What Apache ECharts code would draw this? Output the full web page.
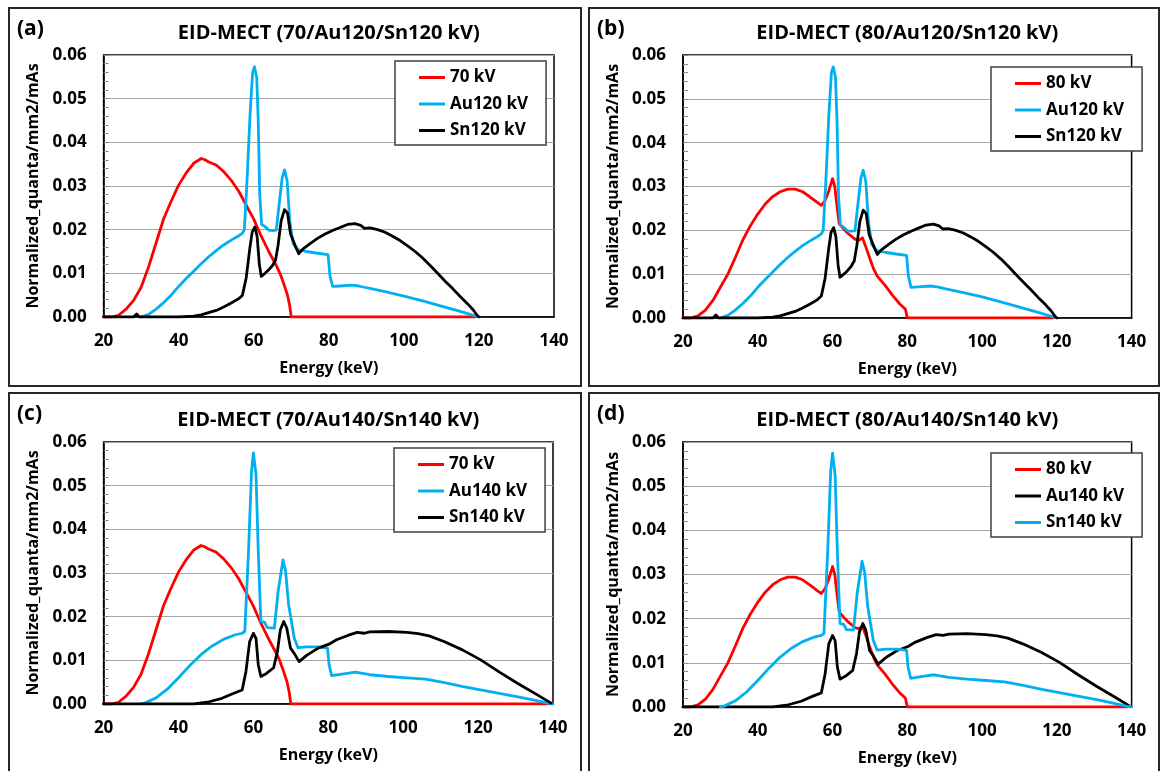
<!DOCTYPE html>
<html><head><meta charset="utf-8">
<script src="https://cdn.jsdelivr.net/npm/echarts/dist/echarts.min.js"></script>
<style>
html,body{margin:0;padding:0;background:#fff;width:1160px;height:771px;overflow:hidden;}
.p{position:absolute;}
</style></head><body>
<div id="pa" class="p" style="left:8px;top:7px;width:574px;height:380px"></div>
<div id="pb" class="p" style="left:588px;top:7px;width:572px;height:380px"></div>
<div id="pc" class="p" style="left:8px;top:392px;width:574px;height:379px"></div>
<div id="pd" class="p" style="left:588px;top:392px;width:572px;height:379px"></div>
<script>
// ---------- DATA (energy keV, normalized quanta/mm2/mAs) ----------
const xTicks = [20, 40, 60, 80, 100, 120, 140];
const yTicks = [0, 0.01, 0.02, 0.03, 0.04, 0.05, 0.06];

const kv70 = [[20,0],[22,0],[24,0.0004],[26,0.0018],[28,0.0038],[30,0.0068],[32,0.0115],[34,0.0170],[36,0.0225],[38,0.0265],[40,0.0302],[42,0.0330],[44,0.0352],[46,0.0363],[47,0.0360],[48,0.0355],[50,0.0348],[52,0.0333],[54,0.0313],[56,0.0288],[58,0.0256],[60,0.0224],[62,0.0185],[64,0.0150],[66,0.0118],[67,0.0100],[68,0.0076],[69,0.0050],[69.6,0.0025],[70,0]];

const kv80 = [[20,0],[22,0],[24,0.0005],[26,0.0018],[28,0.0040],[30,0.0070],[32,0.0100],[34,0.0138],[36,0.0178],[38,0.0210],[40,0.0237],[42,0.0260],[44,0.0277],[46,0.0288],[48,0.0294],[50,0.0294],[52,0.0288],[54,0.0276],[56,0.0263],[57,0.0257],[58,0.0268],[59,0.0290],[60,0.0318],[60.6,0.0300],[61.2,0.0255],[61.8,0.0215],[63,0.0203],[64,0.0194],[66,0.0180],[67,0.0177],[68,0.0183],[69,0.0160],[70,0.0135],[71,0.0112],[72,0.0095],[74,0.0075],[76,0.0052],[78,0.0032],[79.5,0.0020],[80,0]];

const au120 = [[30,0],[32,0.0006],[34,0.0018],[36,0.0033],[38,0.0050],[40,0.0070],[42,0.0088],[44,0.0105],[46,0.0122],[48,0.0138],[50,0.0152],[52,0.0165],[54,0.0176],[56,0.0186],[57,0.0192],[57.5,0.0200],[58.2,0.0310],[59,0.0460],[59.7,0.0560],[60.2,0.0573],[60.8,0.0548],[61.2,0.0450],[61.6,0.0280],[62.1,0.0212],[63,0.0207],[64,0.0199],[65,0.0198],[66,0.0199],[66.9,0.0268],[67.6,0.0320],[68.2,0.0337],[68.9,0.0312],[69.6,0.0220],[70.5,0.0168],[71.8,0.0154],[74,0.0150],[77,0.0146],[79.8,0.0143],[80.3,0.0095],[81,0.0070],[83,0.0071],[86,0.0073],[88,0.0071],[90,0.0067],[95,0.0058],[100,0.0048],[105,0.0037],[110,0.0025],[115,0.0013],[120,0]];

const sn120 = [[20,0],[28,0],[28.8,0.0007],[29.5,0],[40,0],[44,0.0002],[46,0.0005],[48,0.0010],[50,0.0015],[52,0.0023],[54,0.0032],[56,0.0042],[57,0.0050],[58,0.0090],[59,0.0160],[59.6,0.0195],[60.3,0.0206],[60.9,0.0185],[61.5,0.0120],[62,0.0093],[63,0.0100],[64,0.0108],[65,0.0118],[65.8,0.0130],[66.5,0.0165],[67.3,0.0220],[68.2,0.0246],[69,0.0238],[69.8,0.0190],[70.5,0.0175],[71.2,0.0160],[72,0.0145],[73,0.0155],[75,0.0168],[77,0.0180],[79,0.0190],[81,0.0198],[83,0.0205],[85,0.0212],[87,0.0214],[88.5,0.0210],[89.5,0.0203],[91,0.0204],[93,0.0200],[95,0.0194],[97,0.0185],[99,0.0175],[101,0.0163],[103,0.0150],[105,0.0135],[107,0.0118],[109,0.0100],[111,0.0082],[113,0.0065],[115,0.0047],[117,0.0030],[118.5,0.0016],[119.5,0.0004],[120,0]];

const au140 = [[30,0],[31,0.0002],[34,0.0014],[37,0.0034],[40,0.0060],[43,0.0088],[46,0.0113],[49,0.0133],[52,0.0148],[55,0.0158],[57,0.0162],[57.7,0.0166],[58.7,0.0350],[59.5,0.0533],[60,0.0575],[60.7,0.0525],[61.3,0.0350],[62,0.0189],[63,0.0187],[63.7,0.0175],[65.6,0.0174],[66.6,0.0258],[67.9,0.0330],[68.6,0.0304],[69.4,0.0228],[70.9,0.0151],[71.9,0.0129],[74.3,0.0131],[77.3,0.0131],[79.8,0.0128],[80.2,0.0090],[80.9,0.0065],[83.2,0.0068],[87.2,0.0073],[91.1,0.0067],[96,0.0063],[101,0.0060],[106,0.0057],[111,0.0049],[116,0.0040],[121,0.0032],[126,0.0024],[131,0.0016],[136,0.0007],[138.5,0.0002],[140,0]];

const sn140 = [[20,0],[44,0],[47.7,0.0004],[51.6,0.0013],[54.6,0.0024],[57,0.0032],[58,0.0074],[59,0.0143],[60,0.0162],[60.7,0.0150],[61.3,0.0090],[62,0.0063],[63.5,0.0070],[65.4,0.0083],[66.4,0.0120],[67.2,0.0170],[68.1,0.0189],[68.9,0.0174],[69.9,0.0128],[70.9,0.0116],[72.2,0.0097],[74.3,0.0112],[77.3,0.0128],[80.2,0.0137],[82.2,0.0147],[85.2,0.0157],[87.7,0.0164],[89.6,0.0162],[91.1,0.0165],[96,0.0166],[101,0.0164],[104,0.0161],[106.9,0.0156],[110.9,0.0143],[115.8,0.0124],[120.7,0.0101],[125.7,0.0073],[130.6,0.0047],[135.6,0.0022],[139.5,0.0002]];

const zeroTail120 = [[119,0]];
const zeroTail140 = [[139,0]];

const titles = ['EID-MECT (70/Au120/Sn120 kV)','EID-MECT (80/Au120/Sn120 kV)','EID-MECT (70/Au140/Sn140 kV)','EID-MECT (80/Au140/Sn140 kV)'];
const panelLabels = ['(a)','(b)','(c)','(d)'];
const legendNames = [['70 kV','Au120 kV','Sn120 kV'],['80 kV','Au120 kV','Sn120 kV'],['70 kV','Au140 kV','Sn140 kV'],['80 kV','Au140 kV','Sn140 kV']];
const xName = 'Energy (keV)';
const yName = 'Normalized_quanta/mm2/mAs';

// ---------- STYLE / LAYOUT ----------
const RED = '#ff0000', BLUE = '#00b0f0', BLACK = '#000000';
const FONT = '"Open Sans", "DejaVu Sans", sans-serif';

const panels = [
  {el:'pa', w:574, h:380, grid:{left:95.6, right:28, top:48, bottom:70}, legend:{left:387, top:54}, titleY:26, labelY:22,
   series:[[kv70.concat(zeroTail120), RED],[au120, BLUE],[sn120, BLACK]]},
  {el:'pb', w:572, h:380, grid:{left:95, right:28.4, top:48, bottom:69}, legend:{left:403, top:60}, titleY:26, labelY:22,
   series:[[kv80.concat(zeroTail120), RED],[au120, BLUE],[sn120, BLACK]]},
  {el:'pc', w:574, h:379, grid:{left:95.6, right:29, top:50, bottom:67}, legend:{left:386, top:56}, titleY:28, labelY:22,
   series:[[kv70.concat(zeroTail140), RED],[au140, BLUE],[sn140, BLACK]]},
  {el:'pd', w:572, h:379, grid:{left:95, right:28.4, top:50, bottom:64}, legend:{left:403, top:61}, titleY:28, labelY:22,
   series:[[kv80.concat(zeroTail140), RED],[sn140, BLACK],[au140, BLUE]]}
];

panels.forEach((p, i) => {
  const chart = echarts.init(document.getElementById(p.el), null, {renderer:'canvas'});
  const plotW = p.w - p.grid.left - p.grid.right;
  const titleX = p.grid.left + plotW / 2;
  chart.setOption({
    animation:false,
    backgroundColor:'#fff',
    textStyle:{fontFamily:FONT},
    graphic:[
      {type:'rect', shape:{x:1, y:1, width:p.w-2, height: (i < 2 ? p.h-2 : p.h+20)}, style:{fill:'none', stroke:'#262626', lineWidth:2}, silent:true, z:100},
      {type:'text', x:9, y:p.labelY, style:{text:panelLabels[i], fontFamily:FONT, fontWeight:'bold', fontSize:21, fill:'#000', textVerticalAlign:'middle', textAlign:'left'}},
      {type:'text', x:titleX, y:p.titleY, style:{text:titles[i], fontFamily:FONT, fontWeight:'bold', fontSize:20, fill:'#000', textVerticalAlign:'middle', textAlign:'center'}}
    ],
    grid:Object.assign({show:true, borderColor:'#000', borderWidth:1.5, backgroundColor:'#fff', containLabel:false, outerBoundsMode:'none'}, p.grid),
    legend:{
      orient:'vertical', left:p.legend.left, top:p.legend.top,
      icon:'rect', itemWidth:26, itemHeight:3, itemGap:9.5,
      padding:[8, 18, 6, 24],
      borderColor:'#404040', borderWidth:1.5, backgroundColor:'#fff',
      textStyle:{fontFamily:FONT, fontWeight:'bold', fontSize:17, color:'#000'},
      data:legendNames[i]
    },
    xAxis:{
      type:'value', min:xTicks[0], max:xTicks[xTicks.length-1], interval:xTicks[1]-xTicks[0],
      name:xName, nameLocation:'middle', nameGap:43,
      nameTextStyle:{fontFamily:FONT, fontWeight:'bold', fontSize:16, color:'#000'},
      axisLine:{show:true, lineStyle:{color:'#000', width:1.5}},
      axisTick:{show:false},
      splitLine:{show:false},
      axisLabel:{fontFamily:FONT, fontWeight:'bold', fontSize:17, color:'#000', margin:16}
    },
    yAxis:{
      type:'value', min:yTicks[0], max:yTicks[yTicks.length-1], interval:yTicks[1]-yTicks[0],
      name:yName, nameLocation:'middle', nameGap:54, nameRotate:90,
      nameTextStyle:{fontFamily:FONT, fontWeight:'bold', fontSize:16, color:'#000'},
      axisLine:{show:true, lineStyle:{color:'#000', width:1.5}},
      axisTick:{show:true, inside:true, length:5, lineStyle:{color:'#8c8c8c'}},
      minorTick:{show:true, splitNumber:5, length:5, lineStyle:{color:'#8c8c8c'}},
      splitLine:{show:true, lineStyle:{color:'#a6a6a6', width:1}},
      axisLabel:{fontFamily:FONT, fontWeight:'bold', fontSize:17, color:'#000', margin:17, formatter:v => v.toFixed(2)}
    },
    series:p.series.map((s, k) => ({
      name:legendNames[i][k], type:'line', data:s[0], symbol:'none', showSymbol:false,
      lineStyle:{color:s[1], width:2.8, join:'round', cap:'round'},
      itemStyle:{color:s[1]}, color:s[1], z:2+k, smooth:false
    }))
  });
});
</script>
</body></html>
